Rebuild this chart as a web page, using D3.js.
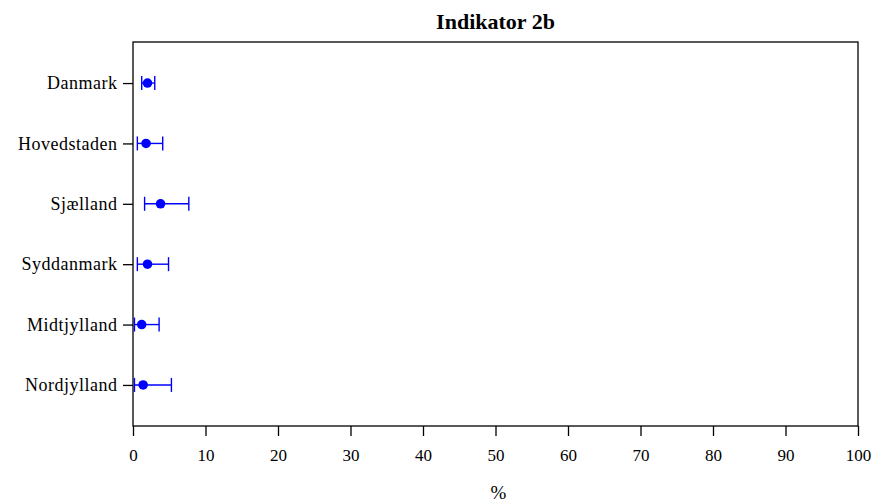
<!DOCTYPE html>
<html>
<head>
<meta charset="utf-8">
<script src="https://cdn.jsdelivr.net/npm/d3@7"></script>
<style>
  html, body { margin: 0; padding: 0; background: #fff; }
  svg { display: block; font-family: "Liberation Serif", "Times New Roman", serif; }
</style>
</head>
<body>
<svg id="chart" width="874" height="502"></svg>
<script>
// Regions and estimated indicator values (%) with confidence limits
const regions = ["Danmark", "Hovedstaden", "Sjælland", "Syddanmark", "Midtjylland", "Nordjylland"];
const estimate = [2.0, 1.8, 3.8, 2.0, 1.2, 1.4];
const lower    = [1.2, 0.6, 1.6, 0.6, 0.2, 0.2];
const upper    = [3.0, 4.1, 7.7, 4.9, 3.6, 5.3];
const xTicks   = [0, 10, 20, 30, 40, 50, 60, 70, 80, 90, 100];

const margin = { left: 133, right: 16, top: 42, bottom: 76 };
const W = 874, H = 502;
const svg = d3.select("#chart");

const x = d3.scaleLinear().domain([0, 100]).range([margin.left, W - margin.right]);
const y = d3.scalePoint().domain(regions).range([margin.top, H - margin.bottom]).padding(0.68);

const rows = regions.map((r, i) => ({ r, est: estimate[i], lo: lower[i], hi: upper[i] }));

// Title
svg.append("text")
  .attr("x", (x(0) + x(100)) / 2).attr("y", 29)
  .attr("text-anchor", "middle")
  .attr("font-size", 22).attr("font-weight", "bold")
  .text("Indikator 2b");

// Frame around plot area
svg.append("rect")
  .attr("x", x(0)).attr("y", margin.top)
  .attr("width", x(100) - x(0)).attr("height", H - margin.bottom - margin.top)
  .attr("fill", "none").attr("stroke", "#000").attr("stroke-width", 1.3);

// X axis
const xAxis = svg.append("g")
  .attr("transform", `translate(0,${H - margin.bottom})`)
  .call(d3.axisBottom(x).tickValues(xTicks).tickSize(10).tickPadding(13).tickFormat(d3.format("d")));
xAxis.select(".domain").remove();
xAxis.selectAll("line").attr("stroke", "#000").attr("stroke-width", 1.3);
xAxis.selectAll("text").attr("font-size", 17).attr("font-family", "Liberation Serif, serif").attr("fill", "#000");

// Y axis
const yAxis = svg.append("g")
  .attr("transform", `translate(${x(0)},0)`)
  .call(d3.axisLeft(y).tickSize(10).tickPadding(5.5));
yAxis.select(".domain").remove();
yAxis.selectAll("line").attr("stroke", "#000").attr("stroke-width", 1.3);
yAxis.selectAll("text").attr("font-size", 18).attr("letter-spacing", 0.5)
  .attr("font-family", "Liberation Serif, serif").attr("fill", "#000");

// X axis label
svg.append("text")
  .attr("x", (x(0) + x(100)) / 2 + 3).attr("y", 499)
  .attr("text-anchor", "middle").attr("font-size", 19)
  .text("%");

// Error bars with estimate points
const blue = "#0000ff";
const g = svg.append("g");
const capH = 7;
g.selectAll(".ci").data(rows).join("line")
  .attr("x1", d => x(d.lo)).attr("x2", d => x(d.hi))
  .attr("y1", d => y(d.r)).attr("y2", d => y(d.r))
  .attr("stroke", blue).attr("stroke-width", 1.4);
g.selectAll(".capLo").data(rows).join("line")
  .attr("x1", d => x(d.lo)).attr("x2", d => x(d.lo))
  .attr("y1", d => y(d.r) - capH).attr("y2", d => y(d.r) + capH)
  .attr("stroke", blue).attr("stroke-width", 1.4);
g.selectAll(".capHi").data(rows).join("line")
  .attr("x1", d => x(d.hi)).attr("x2", d => x(d.hi))
  .attr("y1", d => y(d.r) - capH).attr("y2", d => y(d.r) + capH)
  .attr("stroke", blue).attr("stroke-width", 1.4);
g.selectAll("circle").data(rows).join("circle")
  .attr("cx", d => x(d.est)).attr("cy", d => y(d.r))
  .attr("r", 4.8).attr("fill", blue);
</script>
</body>
</html>
